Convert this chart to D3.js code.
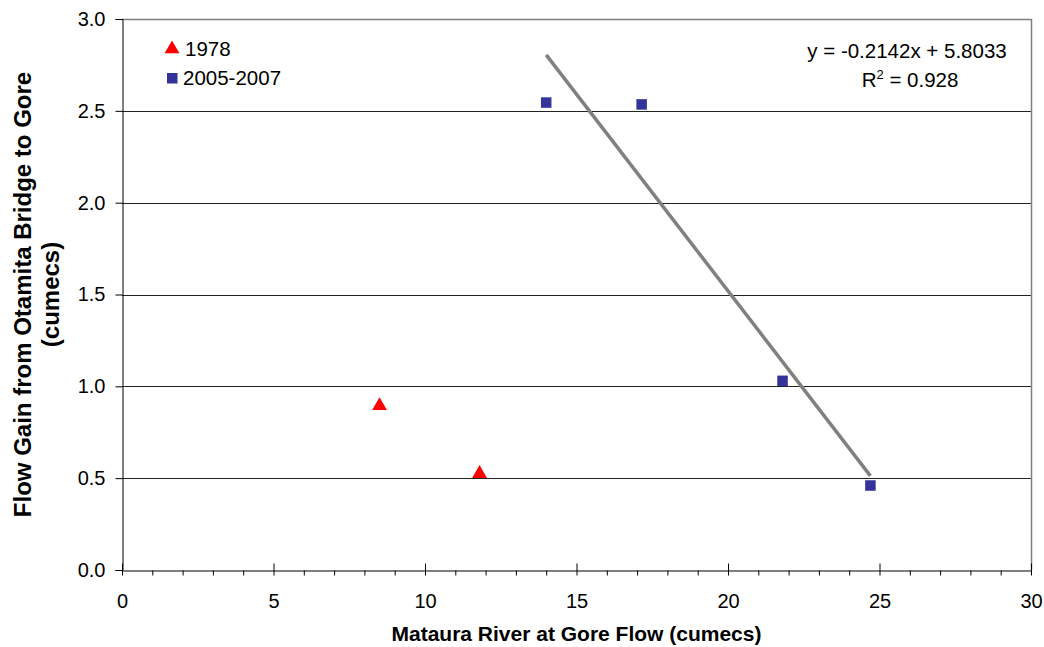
<!DOCTYPE html>
<html>
<head>
<meta charset="utf-8">
<script src="https://cdn.jsdelivr.net/npm/d3@7"></script>
<style>
  html, body { margin: 0; padding: 0; background: #fff; }
  svg { display: block; font-family: Arial, "Liberation Sans", sans-serif; }
</style>
</head>
<body>
<svg id="chart" width="1044" height="647"></svg>
<script>
// ---- data ----
const xTicks = [0, 5, 10, 15, 20, 25, 30];
const yTicks = [0, 0.5, 1.0, 1.5, 2.0, 2.5, 3.0];
const seriesNames = ["1978", "2005-2007"];
const x1978 = [8.5, 11.8];
const y1978 = [0.90, 0.53];
const x0507 = [14.0, 17.15, 21.8, 24.7];
const y0507 = [2.545, 2.535, 1.03, 0.46];
const trendSlope = -0.2142;
const trendIntercept = 5.8033;
const trendLabel = "y = -0.2142x + 5.8033";
const r2Value = "0.928";
const xTitle = "Mataura River at Gore Flow (cumecs)";
const yTitleLines = ["Flow Gain from Otamita Bridge to Gore", "(cumecs)"];

// ---- layout ----
const L = 122, R = 1031, T = 19, B = 570;
const svg = d3.select("#chart");
const x = d3.scaleLinear().domain([0, 30]).range([L, R]);
const y = d3.scaleLinear().domain([0, 3]).range([B, T]);

// gridlines
svg.append("g").selectAll("line").data(yTicks.filter(v => v > 0 && v < 3)).join("line")
  .attr("x1", L).attr("x2", R)
  .attr("y1", d => Math.round(y(d)) + 0.5).attr("y2", d => Math.round(y(d)) + 0.5)
  .attr("stroke", "#222").attr("stroke-width", 1);

// plot border (top/right gray)
svg.append("line").attr("x1", L).attr("x2", R + 0.5).attr("y1", T + 0.5).attr("y2", T + 0.5)
  .attr("stroke", "#808080").attr("stroke-width", 1.5);
svg.append("line").attr("x1", R + 0.5).attr("x2", R + 0.5).attr("y1", T).attr("y2", B)
  .attr("stroke", "#808080").attr("stroke-width", 1.5);

// y axis
const yAxis = d3.axisLeft(y).tickValues(yTicks).tickFormat(d3.format(".1f")).tickSize(7).tickPadding(10);
const gy = svg.append("g").attr("transform", `translate(${L + 0.5},0)`).call(yAxis);
gy.select(".domain").attr("stroke", "#000");
gy.selectAll(".tick line").attr("stroke", "#000");
gy.selectAll(".tick text").attr("font-size", 20).attr("fill", "#000")
  .attr("font-family", "Arial, 'Liberation Sans', sans-serif");

// x axis minor ticks
const minor = d3.range(0, 31, 1).filter(v => v % 5 !== 0);
const xAxisMinor = d3.axisBottom(x).tickValues(minor).tickFormat("").tickSize(5).tickSizeOuter(0);
const gxm = svg.append("g").attr("transform", `translate(0,${B + 0.5})`).call(xAxisMinor);
gxm.select(".domain").remove();
gxm.selectAll(".tick line").attr("stroke", "#000");

// x axis major
const xAxis = d3.axisBottom(x).tickValues(xTicks).tickFormat(d3.format("d")).tickSize(5).tickPadding(18).tickSizeOuter(0);
const gx = svg.append("g").attr("transform", `translate(0,${B + 0.5})`).call(xAxis);
gx.select(".domain").attr("stroke", "#000");
gx.selectAll(".tick line").attr("stroke", "#000").attr("y1", -7);
gx.selectAll(".tick text").attr("font-size", 20).attr("fill", "#000")
  .attr("font-family", "Arial, 'Liberation Sans', sans-serif");

// trendline
const txs = [d3.min(x0507), d3.max(x0507)];
svg.append("path")
  .attr("d", d3.line().x(d => x(d)).y(d => y(trendSlope * d + trendIntercept))(txs))
  .attr("fill", "none").attr("stroke", "#808080").attr("stroke-width", 3.5);

// markers
const tri = d3.symbol().type(d3.symbolTriangle).size(95);
svg.append("g").selectAll("path").data(d3.zip(x1978, y1978)).join("path")
  .attr("d", tri)
  .attr("transform", d => `translate(${x(d[0])},${y(d[1]) + 1})`)
  .attr("fill", "#ff0000");
const sq = 10.5;
svg.append("g").selectAll("rect").data(d3.zip(x0507, y0507)).join("rect")
  .attr("x", d => x(d[0]) - sq / 2).attr("y", d => y(d[1]) - sq / 2)
  .attr("width", sq).attr("height", sq)
  .attr("fill", "#333399");

// legend
const leg = svg.append("g");
leg.append("path").attr("d", tri).attr("transform", "translate(172,49)").attr("fill", "#ff0000");
leg.append("text").attr("x", 185).attr("y", 56).attr("font-size", 20.5).text(seriesNames[0]);
leg.append("rect").attr("x", 167).attr("y", 73).attr("width", sq).attr("height", sq).attr("fill", "#333399");
leg.append("text").attr("x", 183).attr("y", 85).attr("font-size", 20.5).text(seriesNames[1]);

// equation
const eq = svg.append("g").attr("font-size", 20.5).attr("text-anchor", "middle");
eq.append("text").attr("x", 907).attr("y", 58).text(trendLabel);
const r2 = eq.append("text").attr("x", 910).attr("y", 87);
r2.append("tspan").text("R");
r2.append("tspan").attr("dy", -8).attr("font-size", 13).text("2");
r2.append("tspan").attr("dy", 8).text(" = " + r2Value);

// axis titles
svg.append("text").attr("x", (L + R) / 2).attr("y", 641)
  .attr("text-anchor", "middle").attr("font-weight", "bold").attr("font-size", 21).text(xTitle);
const yt = svg.append("text").attr("transform", `translate(31,${(T + B) / 2}) rotate(-90)`)
  .attr("text-anchor", "middle").attr("font-weight", "bold").attr("font-size", 24);
yt.append("tspan").attr("x", 0).attr("y", 0).text(yTitleLines[0]);
yt.append("tspan").attr("x", 0).attr("y", 28).text(yTitleLines[1]);
</script>
</body>
</html>
